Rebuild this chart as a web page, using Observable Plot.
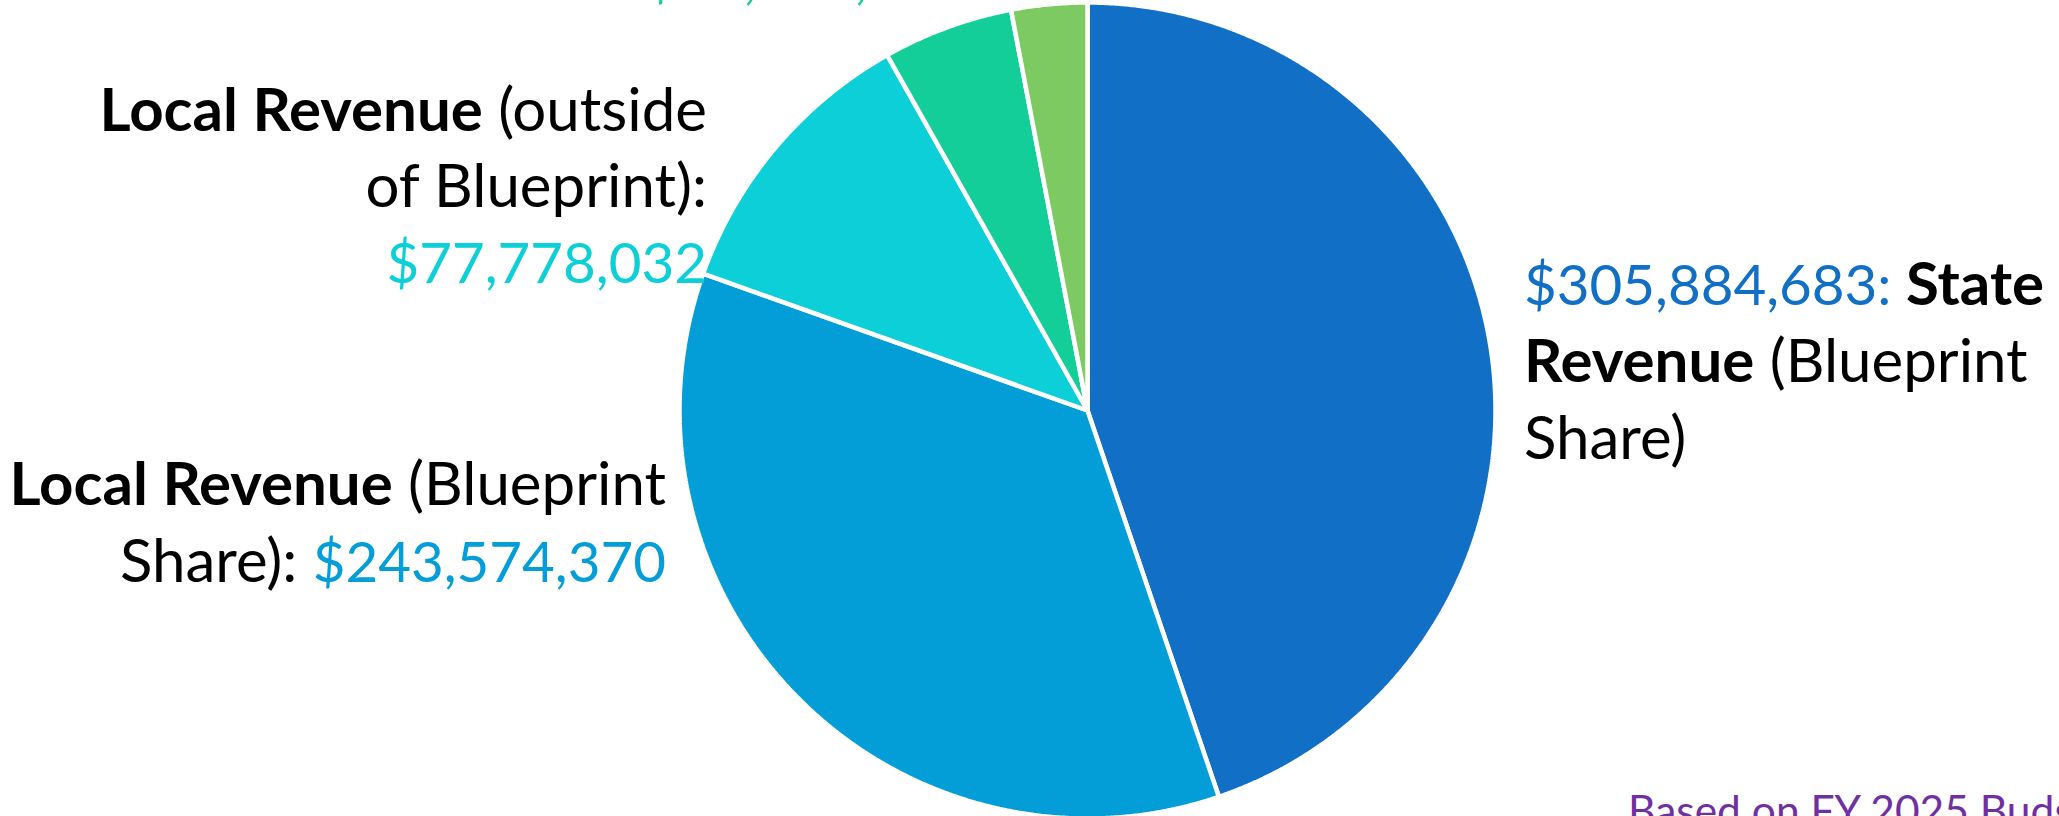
<!DOCTYPE html>
<html>
<head>
<meta charset="utf-8">
<script src="https://cdn.jsdelivr.net/npm/d3@7"></script>
<script src="https://cdn.jsdelivr.net/npm/@observablehq/plot@0.6"></script>
<style>
  html, body { margin: 0; padding: 0; background: #fff; overflow: hidden; }
  #chart { width: 2059px; height: 816px; overflow: hidden; }
</style>
</head>
<body>
<div id="chart"></div>
<script>
// ---- Data ----
const categories = [
  "State Revenue (Blueprint Share)",
  "Local Revenue (Blueprint Share)",
  "Local Revenue (outside of Blueprint)",
  "Federal Revenue",
  "Other Revenue"
];
const values = [305884683, 243574370, 77778032, 35300000, 20500000];
const colors = ["#1170C5", "#039DD8", "#0CCFD8", "#13CE98", "#7DCA62"];
const valueLabels = ["$305,884,683", "$243,574,370", "$77,778,032", "$35,300,000", "$20,500,000"];
const footnote = "Based on FY 2025 Budget";

// ---- Layout ----
const W = 2059, H = 816;
const cx = 1087, cy = 410, R = 408;
const FONT = "Lato, 'Open Sans', 'Noto Sans', sans-serif";
const FS = 60;     // words
const FSN = 56.5;  // numbers

// build slice outlines from the pie layout
const arcs = d3.pie().sort(null)(values);
const points = [];
arcs.forEach((a, i) => {
  const name = categories[i];
  points.push({name, x: 0, y: 0});
  const n = Math.max(2, Math.ceil((a.endAngle - a.startAngle) / (Math.PI / 720)));
  for (let k = 0; k <= n; k++) {
    const t = a.startAngle + (a.endAngle - a.startAngle) * k / n;
    points.push({name, x: Math.sin(t), y: Math.cos(t)});
  }
});

const chart = Plot.plot({
  width: W,
  height: H,
  margin: 0,
  style: {background: "#fff"},
  x: {axis: null, domain: [-cx / R, (W - cx) / R]},
  y: {axis: null, domain: [-(H - cy) / R, cy / R]},
  color: {domain: categories, range: colors},
  marks: [
    Plot.line(points, {
      x: "x", y: "y", z: "name", fill: "name",
      stroke: "white", strokeWidth: 4.5, strokeLinejoin: "miter",
      curve: "linear-closed"
    })
  ]
});
document.getElementById("chart").appendChild(chart);

// ---- Labels (mixed-style text) ----
const svg = d3.select(chart);
const g = svg.append("g").attr("font-family", FONT).attr("font-size", FS);
function addLine(x, y, anchor, segs, size) {
  const t = g.append("text").attr("x", x).attr("y", y)
    .attr("text-anchor", anchor).attr("xml:space", "preserve");
  if (size) t.attr("font-size", size);
  segs.forEach(s => {
    const sp = t.append("tspan")
      .attr("font-weight", s.b ? 700 : 400)
      .attr("fill", s.c || "#000")
      .text(s.t);
    if (s.n) sp.attr("font-size", FSN);
  });
}
// top (cut-off) label
addLine(966, -2, "end", [{t: valueLabels[3], c: colors[3], n: true}]);
// Local revenue outside blueprint
addLine(707, 131, "end", [{t: "Local Revenue", b: true}, {t: " (outside"}]);
addLine(707, 207, "end", [{t: "of Blueprint):"}]);
addLine(707, 283, "end", [{t: valueLabels[2], c: colors[2], n: true}]);
// Local revenue blueprint share
addLine(666, 505, "end", [{t: "Local Revenue", b: true}, {t: " (Blueprint"}]);
addLine(666, 582, "end", [{t: "Share): "}, {t: valueLabels[1], c: colors[1], n: true}]);
// State revenue
addLine(1524, 305, "start", [{t: valueLabels[0] + ": ", c: colors[0], n: true}, {t: "State", b: true}]);
addLine(1524, 382, "start", [{t: "Revenue", b: true}, {t: " (Blueprint"}]);
addLine(1524, 459, "start", [{t: "Share)"}]);
// footnote
addLine(1628, 826, "start", [{t: footnote, c: "#7030A0"}], 42.5);
</script>
</body>
</html>
